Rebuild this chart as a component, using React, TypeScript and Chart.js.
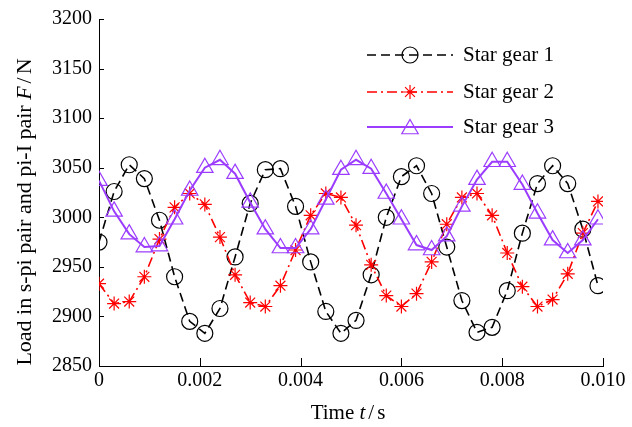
import React, { useEffect, useRef } from 'react';
import { Chart, registerables } from 'chart.js';

Chart.register(...registerables);

// ---- data ----
const timeS = [
  0, 0.0003, 0.0006, 0.0009, 0.0012, 0.0015, 0.0018, 0.0021, 0.0024, 0.0027,
  0.003, 0.0033, 0.0036, 0.0039, 0.0042, 0.0045, 0.0048, 0.0051, 0.0054, 0.0057,
  0.006, 0.0063, 0.0066, 0.0069, 0.0072, 0.0075, 0.0078, 0.0081, 0.0084, 0.0087,
  0.009, 0.0093, 0.0096, 0.0099,
];
const starGear1 = [
  2975, 3026, 3053, 3039, 2997, 2940, 2895, 2883, 2908, 2960,
  3014, 3048, 3049, 3011, 2955, 2905, 2883, 2896, 2942, 3000,
  3041, 3052, 3024, 2970, 2916, 2884, 2889, 2926, 2984, 3034,
  3052, 3034, 2988, 2931,
];
const starGear2 = [
  2933, 2913, 2915, 2940, 2978, 3010, 3024, 3013, 2980, 2942,
  2914, 2910, 2931, 2967, 3002, 3024, 3020, 2992, 2952, 2921,
  2910, 2923, 2955, 2993, 3020, 3024, 3002, 2964, 2930, 2910,
  2917, 2943, 2984, 3016,
];
const starGear3 = [
  3037, 3006, 2983, 2970, 2971, 2998, 3027, 3050, 3058, 3044,
  3015, 2988, 2969, 2969, 2988, 3018, 3048, 3058, 3049, 3024,
  2998, 2972, 2967, 2981, 3011, 3038, 3056, 3056, 3033, 3004,
  2977, 2964, 2977, 2998,
];
const seriesNames = ['Star gear 1', 'Star gear 2', 'Star gear 3'];
const yTicks = [2850, 2900, 2950, 3000, 3050, 3100, 3150, 3200];
const xTicks = [0, 0.002, 0.004, 0.006, 0.008, 0.01];
const xTickLabels = ['0', '0.002', '0.004', '0.006', '0.008', '0.010'];

const SERIF = "'Liberation Serif', 'Times New Roman', Times, serif";
const PURPLE = 'rgb(155, 60, 255)';
const RED = '#ff0000';
const BLACK = '#000000';

type Seg = { text: string; italic?: boolean; gap?: number };

function segWidth(ctx: CanvasRenderingContext2D, segs: Seg[], size: number) {
  let w = 0;
  for (const s of segs) {
    ctx.font = `${s.italic ? 'italic ' : ''}${size}px ${SERIF}`;
    w += ctx.measureText(s.text).width + (s.gap || 0);
  }
  return w;
}
function drawSegs(ctx: CanvasRenderingContext2D, segs: Seg[], size: number, cx: number, y: number) {
  const total = segWidth(ctx, segs, size);
  let x = cx - total / 2;
  ctx.textAlign = 'left';
  ctx.textBaseline = 'alphabetic';
  for (const s of segs) {
    ctx.font = `${s.italic ? 'italic ' : ''}${size}px ${SERIF}`;
    ctx.fillText(s.text, x, y);
    x += ctx.measureText(s.text).width + (s.gap || 0);
  }
}

function drawMarker(ctx: CanvasRenderingContext2D, style: string, x: number, y: number, r: number, color: string, lw: number) {
  ctx.save();
  ctx.strokeStyle = color;
  ctx.lineWidth = lw;
  ctx.setLineDash([]);
  ctx.beginPath();
  if (style === 'circle') {
    ctx.arc(x, y, r, 0, Math.PI * 2);
  } else if (style === 'triangle') {
    let a = 0;
    ctx.moveTo(x + Math.sin(a) * r, y - Math.cos(a) * r);
    a += (2 * Math.PI) / 3;
    ctx.lineTo(x + Math.sin(a) * r, y - Math.cos(a) * r);
    a += (2 * Math.PI) / 3;
    ctx.lineTo(x + Math.sin(a) * r, y - Math.cos(a) * r);
    ctx.closePath();
  } else if (style === 'star') {
    ctx.moveTo(x - r, y); ctx.lineTo(x + r, y);
    ctx.moveTo(x, y - r); ctx.lineTo(x, y + r);
    const d = r * Math.SQRT1_2;
    ctx.moveTo(x - d, y - d); ctx.lineTo(x + d, y + d);
    ctx.moveTo(x - d, y + d); ctx.lineTo(x + d, y - d);
  }
  ctx.stroke();
  ctx.restore();
}

const decorPlugin = {
  id: 'decor',
  afterDraw(chart: any) {
    const ctx: CanvasRenderingContext2D = chart.ctx;
    const { left, right, bottom } = chart.chartArea;
    const xs = chart.scales.x;
    const ys = chart.scales.y;
    ctx.save();
    // inward ticks
    ctx.strokeStyle = BLACK;
    ctx.lineWidth = 1;
    ctx.beginPath();
    for (const v of yTicks) {
      const py = Math.round(ys.getPixelForValue(v)) + 0.5;
      ctx.moveTo(left, py);
      ctx.lineTo(left + 5, py);
    }
    for (const v of xTicks) {
      const px = Math.round(xs.getPixelForValue(v)) + 0.5;
      ctx.moveTo(px, bottom);
      ctx.lineTo(px, bottom - 8);
    }
    ctx.stroke();

    // legend
    const rows = [
      { y: 55, color: BLACK, dash: [9, 5], style: 'circle', r: 8, lw: 1.5 },
      { y: 92, color: RED, dash: [10, 4, 2, 4], style: 'star', r: 7, lw: 1.5 },
      { y: 127, color: PURPLE, dash: [], style: 'triangle', r: 9.5, lw: 2 },
    ];
    rows.forEach((row, i) => {
      ctx.save();
      ctx.strokeStyle = row.color;
      ctx.lineWidth = row.lw;
      ctx.setLineDash(row.dash);
      ctx.beginPath();
      ctx.moveTo(367, row.y);
      ctx.lineTo(453, row.y);
      ctx.stroke();
      ctx.restore();
      drawMarker(ctx, row.style, 410, row.style === 'triangle' ? row.y + 2 : row.y, row.r, row.color, 1.2);
      ctx.fillStyle = BLACK;
      ctx.font = `21px ${SERIF}`;
      ctx.textAlign = 'left';
      ctx.textBaseline = 'middle';
      ctx.fillText(seriesNames[i], 463, row.y);
    });

    // axis titles
    ctx.fillStyle = BLACK;
    drawSegs(
      ctx,
      [{ text: 'Time ' }, { text: 't', italic: true, gap: 3 }, { text: '/', gap: 3 }, { text: 's' }],
      21,
      (left + right) / 2 - 3,
      419,
    );
    ctx.save();
    ctx.translate(31, 212);
    ctx.rotate(-Math.PI / 2);
    drawSegs(
      ctx,
      [
        { text: 'Load in s-pi pair and pi-I pair ' },
        { text: 'F', italic: true, gap: 3 },
        { text: '/', gap: 3 },
        { text: 'N' },
      ],
      22,
      0,
      0,
    );
    ctx.restore();
    ctx.restore();
  },
};

export default function App() {
  const ref = useRef<HTMLCanvasElement | null>(null);
  useEffect(() => {
    if (!ref.current) return;
    const mk = (vals: number[]) => vals.map((v, i) => ({ x: timeS[i], y: v }));
    const chart = new Chart(ref.current, {
      type: 'line',
      data: {
        datasets: [
          {
            label: seriesNames[0],
            data: mk(starGear1),
            borderColor: BLACK,
            borderWidth: 1.6,
            borderDash: [9, 5],
            pointStyle: 'circle',
            pointRadius: 8,
            pointBorderWidth: 1.2,
            pointBorderColor: BLACK,
            pointBackgroundColor: 'rgba(0,0,0,0)',
            tension: 0,
            order: 3,
          },
          {
            label: seriesNames[1],
            data: mk(starGear2),
            borderColor: RED,
            borderWidth: 1.6,
            borderDash: [10, 4, 2, 4],
            pointStyle: 'star',
            pointRadius: 7,
            pointBorderWidth: 1.2,
            pointBorderColor: RED,
            pointBackgroundColor: 'rgba(0,0,0,0)',
            tension: 0,
            order: 2,
          },
          {
            label: seriesNames[2],
            data: mk(starGear3),
            borderColor: PURPLE,
            borderWidth: 2,
            pointStyle: 'triangle',
            pointRadius: 9.5,
            pointBorderWidth: 1.2,
            pointBorderColor: PURPLE,
            pointBackgroundColor: 'rgba(0,0,0,0)',
            tension: 0,
            order: 1,
          },
        ],
      },
      options: {
        responsive: false,
        animation: false,
        devicePixelRatio: 1,
        layout: { padding: { top: 18, right: 29, left: 0, bottom: 0 } },
        plugins: { legend: { display: false }, tooltip: { enabled: false } },
        scales: {
          x: {
            type: 'linear',
            min: 0,
            max: 0.01,
            afterFit: (s: any) => { s.height = 61; },
            afterBuildTicks: (s: any) => { s.ticks = xTicks.map((v) => ({ value: v })); },
            ticks: {
              color: BLACK,
              padding: 3,
              maxRotation: 0,
              autoSkip: false,
              font: { family: SERIF, size: 20 },
              callback: (v: any) => {
                const idx = xTicks.findIndex((t) => Math.abs(t - Number(v)) < 1e-9);
                return idx >= 0 ? xTickLabels[idx] : '';
              },
            },
            grid: { display: false, drawTicks: false },
            border: { display: true, color: BLACK, width: 1 },
          },
          y: {
            type: 'linear',
            min: 2850,
            max: 3200,
            afterFit: (s: any) => { s.width = 99; },
            afterBuildTicks: (s: any) => { s.ticks = yTicks.map((v) => ({ value: v })); },
            ticks: {
              color: BLACK,
              padding: 7,
              autoSkip: false,
              font: { family: SERIF, size: 20 },
              callback: (v: any) => String(v),
            },
            grid: { display: false, drawTicks: false },
            border: { display: true, color: BLACK, width: 1 },
          },
        },
      },
      plugins: [decorPlugin],
    } as any);
    return () => chart.destroy();
  }, []);
  return (
    <div style={{ position: 'fixed', left: 0, top: 0, width: 632, height: 427, background: '#fff' }}>
      <canvas ref={ref} width={632} height={427} style={{ display: 'block', width: 632, height: 427 }} />
    </div>
  );
}
